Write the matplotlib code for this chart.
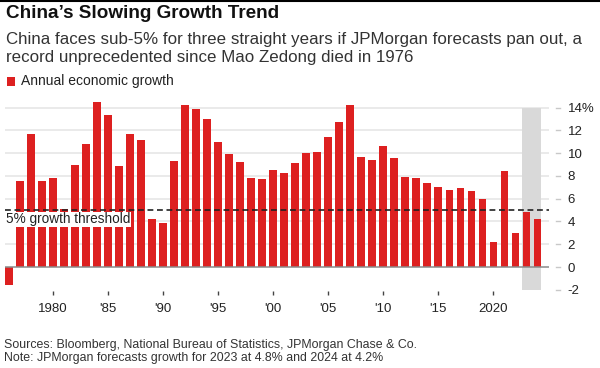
import matplotlib
matplotlib.use('Agg')
import matplotlib.pyplot as plt
from matplotlib.patches import Rectangle
from matplotlib.lines import Line2D

plt.rcParams['font.family'] = ['Liberation Sans', 'DejaVu Sans']

# annual real GDP growth, %, 1976-2024 (2023/2024 are JPMorgan forecasts)
years = list(range(1976, 2025))
growth = [-1.6, 7.6, 11.7, 7.6, 7.8, 5.1, 9.0, 10.8, 15.2, 13.4,
          8.9, 11.7, 11.2, 4.2, 3.9, 9.3, 14.2, 13.9, 13.0, 11.0,
          9.9, 9.2, 7.8, 7.7, 8.5, 8.3, 9.1, 10.0, 10.1, 11.4,
          12.7, 14.2, 9.7, 9.4, 10.6, 9.6, 7.9, 7.8, 7.4, 7.0,
          6.8, 6.9, 6.7, 6.0, 2.2, 8.4, 3.0, 4.8, 4.2]
forecast_years = [2023, 2024]
threshold = 5

xtick_years = [1980, 1985, 1990, 1995, 2000, 2005, 2010, 2015, 2020]
xtick_labels = ['1980', "'85", "'90", "'95", "'00", "'05", "'10", "'15", '2020']
ytick_vals = [-2, 0, 2, 4, 6, 8, 10, 12, 14]
ytick_labels = ['-2', '0', '2', '4', '6', '8', '10', '12', '14%']

RED = '#dd2020'
W, H = 600, 368


def fy(py):
    return 1 - py / H


fig = plt.figure(figsize=(W / 100, H / 100), dpi=100)
ax = fig.add_axes([5 / W, fy(290.9), 544 / W, (290.9 - 102) / H])

# gridlines
for v in ytick_vals:
    if v > 0:
        ax.axhline(v, color='#e4e4e4', lw=1.1, zorder=0)

# forecast shading
span = 0.36
ax.add_patch(Rectangle((forecast_years[0] - span, -2),
                       forecast_years[-1] - forecast_years[0] + 2 * span, 16,
                       facecolor='#d9d9d9', edgecolor='none', zorder=1))

ax.bar(years, growth, width=0.68, color=RED, zorder=2)
ax.axhline(0, color='#8a8a8a', lw=1.1, zorder=3)
ax.axhline(threshold, color='#222222', lw=1.2, ls=(0, (3.5, 2.2)), zorder=4)
ax.text(1975.7, 4.2, '5% growth threshold', fontsize=9.8, color='#222222',
        va='center', ha='left', zorder=5,
        bbox=dict(facecolor='white', edgecolor='none', pad=0.5))

ax.set_xlim(1975.65, 2025.06)
ax.set_ylim(-2.1, 14.5)
for s in ax.spines.values():
    s.set_visible(False)

ax.set_xticks(xtick_years)
ax.set_xticklabels(xtick_labels)
ax.tick_params(axis='x', length=3, width=1, color='#444444', pad=6,
               labelsize=9.5, labelcolor='#222222')

ax.yaxis.tick_right()
ax.set_yticks(ytick_vals)
ax.set_yticklabels(ytick_labels)
ax.tick_params(axis='y', length=0, pad=13.5, labelsize=9.5,
               labelcolor='#222222')
# detached tick dashes on the right
ytr = ax.get_yaxis_transform()
for v in ytick_vals:
    ax.add_line(Line2D([1 + 7 / 544, 1 + 11 / 544], [v, v], transform=ytr,
                       color='#c8c8c8', lw=1, clip_on=False))

# header
fig.add_artist(Line2D([0, 1], [fy(0.8), fy(0.8)], color='black', lw=1.5))
fig.text(6 / W, fy(13.3), 'China’s Slowing Growth Trend', fontsize=13.6,
         fontweight='bold', color='#111111', va='center')
fig.text(6 / W, fy(39.3),
         'China faces sub-5% for three straight years if JPMorgan forecasts pan out, a',
         fontsize=12.2, color='#333333', va='center')
fig.text(6 / W, fy(57.3), 'record unprecedented since Mao Zedong died in 1976',
         fontsize=12.2, color='#333333', va='center')

# legend
fig.add_artist(Rectangle((6.7 / W, fy(85.7)), 8.3 / W, 8.3 / H,
                         facecolor=RED, edgecolor='none',
                         transform=fig.transFigure))
fig.text(20.7 / W, fy(81.5), 'Annual economic growth', fontsize=10,
         color='#222222', va='center')

# footer
fig.text(4 / W, fy(345), 'Sources: Bloomberg, National Bureau of Statistics, JPMorgan Chase & Co.',
         fontsize=8.9, color='#333333', va='center')
fig.text(4 / W, fy(358.5), 'Note: JPMorgan forecasts growth for 2023 at 4.8% and 2024 at 4.2%',
         fontsize=8.9, color='#333333', va='center')

fig.savefig('out.png', dpi=100)
